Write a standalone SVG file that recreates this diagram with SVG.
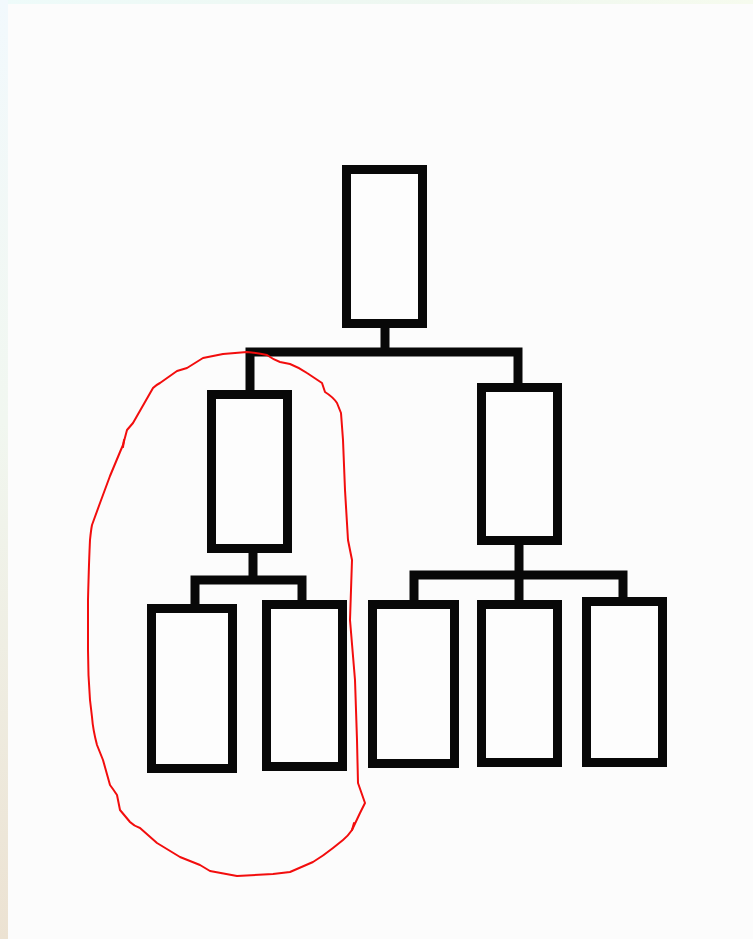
<svg xmlns="http://www.w3.org/2000/svg" width="753" height="939" viewBox="0 0 753 939">
  <defs>
    <linearGradient id="edgeLeft" x1="0" y1="0" x2="0" y2="1">
      <stop offset="0" stop-color="#f2f9fd"/>
      <stop offset="0.45" stop-color="#f1f7f0"/>
      <stop offset="1" stop-color="#ece2d2"/>
    </linearGradient>
    <linearGradient id="edgeTop" x1="0" y1="0" x2="1" y2="0">
      <stop offset="0" stop-color="#eefbfa"/>
      <stop offset="0.6" stop-color="#eef7f0"/>
      <stop offset="1" stop-color="#f6fbee"/>
    </linearGradient>
    <style>
      .box { fill: #fdfdfd; stroke: #080808; stroke-width: 9; stroke-linejoin: miter; }
      .wire { fill: none; stroke: #080808; stroke-width: 9; stroke-linejoin: miter; stroke-linecap: butt; }
      .loop { fill: none; stroke: #f20d0d; stroke-width: 2; stroke-linejoin: round; stroke-linecap: round; }
    </style>
  </defs>

  <!-- paper -->
  <rect x="0" y="0" width="753" height="939" fill="#fcfcfc"/>
  <rect x="0" y="0" width="753" height="4" fill="url(#edgeTop)"/>
  <rect x="0" y="0" width="8" height="939" fill="url(#edgeLeft)"/>

  <!-- connectors -->
  <g id="connectors">
    <path class="wire" d="M385 326 V352"/>
    <path class="wire" d="M250 392 V352 H518 V385"/>
    <path class="wire" d="M253 551 V580"/>
    <path class="wire" d="M195 606 V580 H302 V602"/>
    <path class="wire" d="M519 543 V602"/>
    <path class="wire" d="M414 602 V575 H623 V599"/>
  </g>

  <!-- nodes -->
  <g id="root"><rect class="box" x="346.5" y="169.5" width="76" height="154"/></g>
  <g id="mid-left"><rect class="box" x="211.5" y="394.5" width="76" height="154"/></g>
  <g id="mid-right"><rect class="box" x="481.5" y="387.5" width="76" height="153"/></g>
  <g id="leaf-1"><rect class="box" x="151.5" y="608.5" width="81" height="160"/></g>
  <g id="leaf-2"><rect class="box" x="266.5" y="604.5" width="76" height="162"/></g>
  <g id="leaf-3"><rect class="box" x="372.5" y="604.5" width="82" height="159"/></g>
  <g id="leaf-4"><rect class="box" x="481.5" y="604.5" width="76" height="158"/></g>
  <g id="leaf-5"><rect class="box" x="586.5" y="601.5" width="76" height="161"/></g>

  <!-- hand-drawn loop around the left branch -->
  <g id="highlight">
    <path class="loop" d="M247 352 C257 353 262 354 267 355 Q274 360 280 362 L290 364 Q300 368 307 373 L322 383 L325 392 Q333 397 337 403 L341 413 L343 440 L345 490 L348 540 L352 560 L350 620 L355 680 L357 740 L358 783 L365 803 L360 813 L352 830 Q348 836 343 840 L333 848 Q323 856 313 862 L290 872 L273 874 L237 876 L210 871 L200 865 L180 857 L157 843 L140 828 Q134 826 130 822 L120 810 L117 795 Q113 789 110 785 L103 760 L97 745 Q93 730 92 717 L90 700 Q88 675 88 650 L88 600 Q89 560 90 540 Q91 530 92 525 L100 503 L110 476 L120 452 L123 445 L127 430 L133 423 L153 388 Q156 385 160 383 L177 371 L187 368 L203 358 L223 354 Z"/>
    <path class="loop" d="M123 447 L124 440"/>
    <path class="loop" d="M352 830 L354 823"/>
  </g>
</svg>
